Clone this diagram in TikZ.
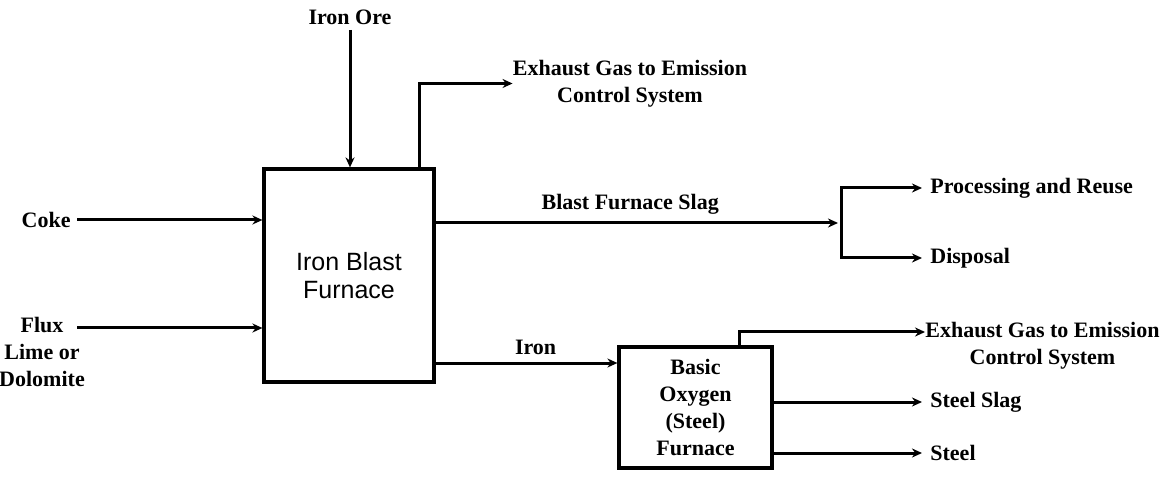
\documentclass[tikz,border=0pt]{standalone}
\usepackage{fontspec}
\setmainfont{Liberation Serif}
\newfontfamily\boxfont{Liberation Sans}
\usetikzlibrary{arrows.meta}

\begin{document}
\begin{tikzpicture}[
    x=0.5pt, y=-0.5pt,
    >={Stealth[length=5pt,width=4.5pt]},
    every node/.style={font=\fontsize{11}{13.5}\selectfont\bfseries},
    furnace/.style={
        draw,
        line width=1.6pt,
        fill=white,
        align=center
    },
    lbl/.style={
        align=center,
        inner sep=1pt
    },
    outlbl/.style={
        anchor=west,
        inner xsep=4pt,
        inner ysep=1pt
    },
    arr/.style={->, line width=1.5pt}
]

    \useasboundingbox (0,0) rectangle (1171,480);

    % Iron blast furnace
    \node[
        furnace,
        minimum width=85pt,
        minimum height=106.5pt,
        font=\boxfont\fontsize{12.5}{14}\selectfont
    ] (ibf) at (349,275.5) {Iron Blast\\Furnace};

    % Basic oxygen furnace
    \node[
        furnace,
        minimum width=76.5pt,
        minimum height=60.5pt
    ] (bof) at (695.5,407.5) {Basic\\Oxygen\\(Steel)\\Furnace};

    % Inputs
    \node[lbl] (ore) at (350,17) {Iron Ore};
    \node[lbl, anchor=east] (coke) at (73,220) {Coke};
    \node[lbl] (flux) at (42,352) {Flux\\Lime or\\Dolomite};
    \coordinate (fluxin) at (77,328);

    \draw[arr, shorten <=1.5pt] (ore.south) -- (ore.south |- ibf.north);
    \draw[arr, shorten <=2pt] (coke.east) -- (coke.east -| ibf.west);
    \draw[arr] (fluxin) -- (fluxin -| ibf.west);

    % Exhaust gas from blast furnace
    \node[lbl, inner sep=0pt] (gas1) at (630,83.5)
        {Exhaust Gas to Emission\\Control System};
    \draw[arr] ([xshift=-8pt]ibf.north east) |- (gas1.west);

    % Blast furnace slag
    \coordinate (split) at (841,223);
    \node[outlbl] (reuse) at (922,188) {Processing and Reuse};
    \node[outlbl] (disposal) at (922,258) {Disposal};

    \draw[arr, shorten >=1.5pt] (split -| ibf.east)
        -- node[pos=0.48, above] (slaglbl) {Blast Furnace Slag} (split);
    \draw[arr] (split) |- (reuse.west);
    \draw[arr] (split) |- (disposal.west);

    % Iron to basic oxygen furnace
    \coordinate (ironin) at ([yshift=22.25pt]bof.west);
    \draw[arr] (ironin -| ibf.east)
        -- node[pos=0.55, above] (ironlbl) {Iron} (ironin);

    % Basic oxygen furnace outputs
    \node[lbl, inner sep=0pt] (gas2) at (1042.5,346)
        {Exhaust Gas to Emission\\Control System};
    \node[outlbl] (sslag) at (922,402) {Steel Slag};
    \node[outlbl] (steel) at (922,453) {Steel};

    \draw[arr] ([xshift=-17pt]bof.north east) |- ([yshift=7pt]gas2.west);
    \draw[arr] (sslag.west -| bof.east) -- (sslag.west);
    \draw[arr] (steel.west -| bof.east) -- (steel.west);

\end{tikzpicture}
\end{document}
